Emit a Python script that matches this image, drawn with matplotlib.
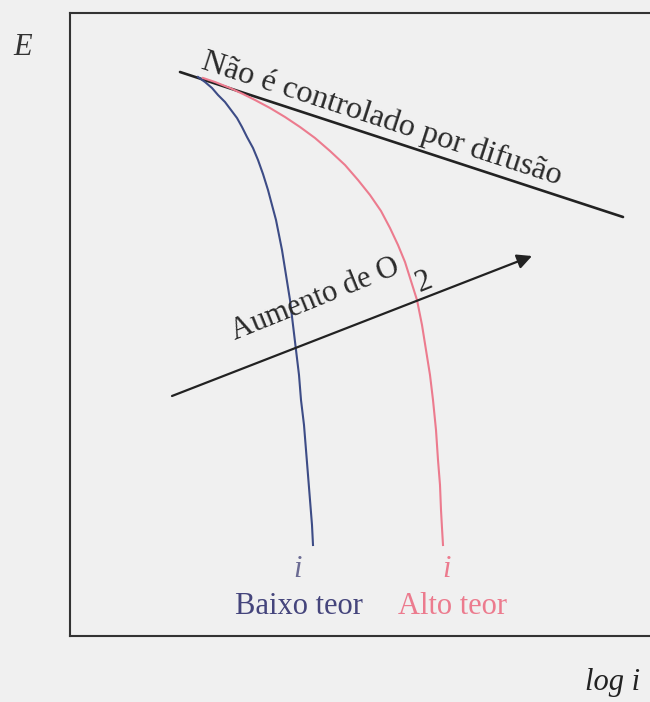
import matplotlib
matplotlib.use('Agg')
from matplotlib import pyplot as plt

# curve points (log i, E)
baixo_x = [128, 135, 142, 148, 155, 161, 167, 172, 177, 183, 188, 193, 198, 202, 206,
           209, 212, 216, 220, 223, 226, 229, 231, 234, 236, 238, 240, 242, 243]
baixo_e = [559, 554, 548, 541, 534, 526, 518, 509, 499, 488, 476, 462, 446, 431, 416,
           401, 386, 361, 336, 311, 286, 261, 236, 211, 186, 161, 136, 111, 91]

alto_x = [133, 145, 160, 173, 185, 200, 215, 230, 245, 260, 275, 288, 300, 311, 320,
          328, 335, 341, 347, 352, 356, 360, 363, 366, 368, 370, 371, 372, 373]
alto_e = [558, 554, 548, 542, 536, 528, 519, 509, 498, 485, 471, 456, 441, 425, 408,
          391, 374, 355, 336, 311, 286, 261, 236, 206, 176, 151, 126, 108, 91]

# activation (not diffusion controlled) line
difusao_x = [110, 553]
difusao_e = [564, 419]

# "more oxygen" arrow, tail then head
seta_x = [102, 462]
seta_e = [240, 380]

BLUE = '#3d4c86'
RED = '#ec7b8e'
INK = '#222222'
BG = '#f0f0f0'

plt.rcParams['font.family'] = ['Liberation Serif', 'DejaVu Serif']

fig = plt.figure(figsize=(6.5, 7.02), dpi=100, facecolor=BG)
ax = fig.add_axes([70 / 650, 66 / 702, 590 / 650, 623 / 702])
ax.set_facecolor(BG)
ax.set_xlim(0, 590)
ax.set_ylim(0, 623)
ax.set_xticks([])
ax.set_yticks([])
for side in ['top', 'left', 'bottom']:
  ax.spines[side].set_color('#333333')
  ax.spines[side].set_linewidth(1.5)
ax.spines['right'].set_visible(False)

ax.plot(difusao_x, difusao_e, color=INK, lw=1.9, solid_capstyle='round')
ax.plot(baixo_x, baixo_e, color=BLUE, lw=1.5, solid_joinstyle='round')
ax.plot(alto_x, alto_e, color=RED, lw=1.5, solid_joinstyle='round')

ax.annotate('', xy=(seta_x[1], seta_e[1]), xytext=(seta_x[0], seta_e[0]),
            arrowprops=dict(arrowstyle='-|>', color=INK, lw=1.6,
                            mutation_scale=22, shrinkA=0, shrinkB=0))

fs = 22
ax.text(130, 568, 'Não é controlado por difusão', fontsize=23.2, color='#2a2a2a',
        rotation=-18, rotation_mode='anchor', ha='left', va='baseline')
ax.text(165, 296, 'Aumento de O', fontsize=fs, color='#2a2a2a',
        rotation=22, rotation_mode='anchor', ha='left', va='baseline')
ax.text(350, 344, '2', fontsize=fs, color='#2a2a2a',
        rotation=22, rotation_mode='anchor', ha='left', va='baseline')

ax.text(228, 59, 'i', fontsize=fs, style='italic', color='#6b6b93',
        ha='center', va='baseline')
ax.text(377, 59, 'i', fontsize=fs, style='italic', color=RED,
        ha='center', va='baseline')
ax.text(165, 22, 'Baixo teor', fontsize=fs, color='#45457c',
        ha='left', va='baseline')
ax.text(328, 22, 'Alto teor', fontsize=fs, color=RED,
        ha='left', va='baseline')

fig.text(13 / 650, 1 - 55 / 702, 'E', fontsize=fs, style='italic',
         color='#333333', ha='left', va='baseline')
fig.text(585 / 650, 1 - 690 / 702, 'log i', fontsize=fs, style='italic',
         color='#222222', ha='left', va='baseline')

fig.savefig('out.png', dpi=100, facecolor=BG)
